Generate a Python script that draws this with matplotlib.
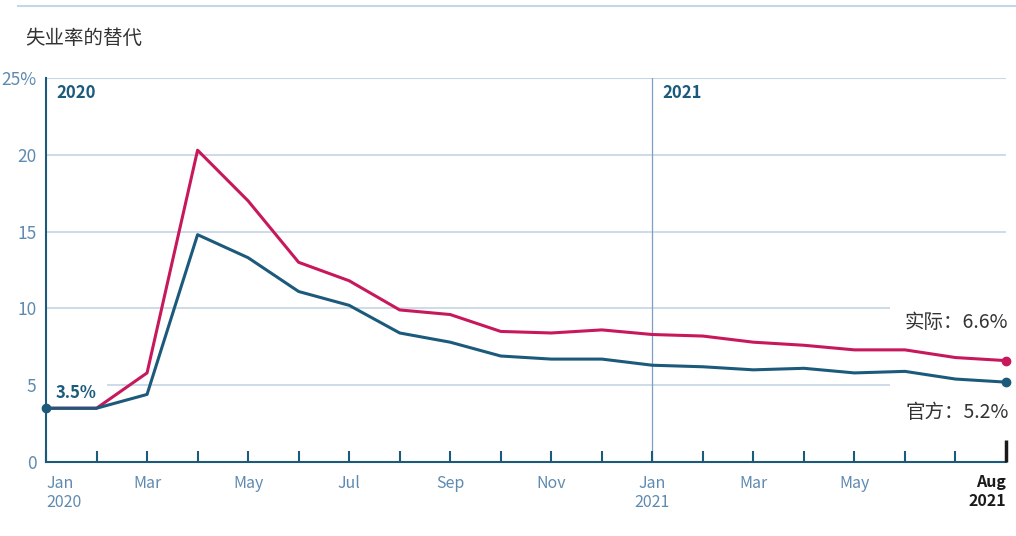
import matplotlib.pyplot as plt
import numpy as np

plt.rcParams['font.family'] = ['Noto Sans CJK SC', 'DejaVu Sans']

# Monthly data, Jan 2020 - Aug 2021
months = ['Jan\n2020', '', 'Mar', '', 'May', '', 'Jul', '', 'Sep', '', 'Nov', '',
          'Jan\n2021', '', 'Mar', '', 'May', '', '', 'Aug\n2021']
official = [3.5, 3.5, 4.4, 14.8, 13.3, 11.1, 10.2, 8.4, 7.8, 6.9, 6.7, 6.7,
            6.3, 6.2, 6.0, 6.1, 5.8, 5.9, 5.4, 5.2]
actual = [3.5, 3.5, 5.8, 20.3, 17.0, 13.0, 11.8, 9.9, 9.6, 8.5, 8.4, 8.6,
          8.3, 8.2, 7.8, 7.6, 7.3, 7.3, 6.8, 6.6]
yticks = [0, 5, 10, 15, 20, 25]
ylabels = ['0', '5', '10', '15', '20', '25%']

blue = '#1c5a7c'
red = '#c8185c'
tick_col = '#5f8ab0'
grid_col = '#c5d6e6'

fig = plt.figure(figsize=(10.16, 5.36), dpi=100)
ax = fig.add_axes([46 / 1016, 74 / 536, 960 / 1016, 384 / 536])
x = np.arange(len(months))

# gridlines (some broken around annotations)
ax.hlines(5, 1.2, 16.7, color=grid_col, lw=1.2, zorder=1)
ax.hlines(10, 0, 16.7, color=grid_col, lw=1.2, zorder=1)
ax.hlines([15, 20], 0, 19, color=grid_col, lw=1.2, zorder=1)
ax.hlines(25, 0, 19.1, color=grid_col, lw=1.5, zorder=1)
ax.axvline(12, color='#7f9fc2', lw=0.9, zorder=1)

ax.plot(x, actual, color=red, lw=2.2, zorder=3)
ax.plot(x, official, color=blue, lw=2.2, zorder=4)
ax.plot([0, 19], [official[0], official[-1]], 'o', color=blue, ms=6, zorder=5, clip_on=False)
ax.plot([19], [actual[-1]], 'o', color=red, ms=6, zorder=5, clip_on=False)

ax.set_xlim(0, 19)
ax.set_ylim(0, 25)
ax.set_yticks(yticks)
ax.set_yticklabels(ylabels)
ax.set_xticks(x)
ax.set_xticklabels(months)
ax.tick_params(axis='y', length=0, pad=7, labelsize=12.5, labelcolor=tick_col)
ax.tick_params(axis='x', direction='in', length=8, width=1.5, color=blue,
               pad=9, labelsize=11.5, labelcolor=tick_col)
labels = ax.get_xticklabels()
labels[0].set_horizontalalignment('left')
labels[0].set_multialignment('left')
labels[0].set_x(-0.15)
last = labels[-1]
last.set_fontweight('bold')
last.set_color('#1a1a1a')
last.set_horizontalalignment('right')
last.set_multialignment('right')
last.set_x(19.05)
ax.xaxis.get_major_ticks()[-1].tick1line.set_markersize(0)
ax.vlines(19, 0, 1.4, color='#1a1a1a', lw=2.5, zorder=6, clip_on=False)

for s in ['top', 'right']:
    ax.spines[s].set_visible(False)
for s in ['left', 'bottom']:
    ax.spines[s].set_color(blue)
    ax.spines[s].set_linewidth(1.5)

ax.text(0.2, 24.6, '2020', color=blue, fontsize=12, fontweight='bold', va='top')
ax.text(12.2, 24.6, '2021', color=blue, fontsize=12, fontweight='bold', va='top')
ax.text(0.2, 4.5, '3.5%', color=blue, fontsize=12, fontweight='bold', va='center')
ax.text(19.05, 9.1, '实际：6.6%', color='#333333', fontsize=14, ha='right', va='center')
ax.text(19.05, 3.2, '官方：5.2%', color='#333333', fontsize=14, ha='right', va='center')

fig.text(25 / 1016, 1 - 38 / 536, '失业率的替代', color='#333333', fontsize=14, va='center')
fig.add_artist(plt.Line2D([18 / 1016, 1], [1 - 6 / 536] * 2, color=grid_col, lw=1.5))

fig.savefig('out.png', dpi=100)
